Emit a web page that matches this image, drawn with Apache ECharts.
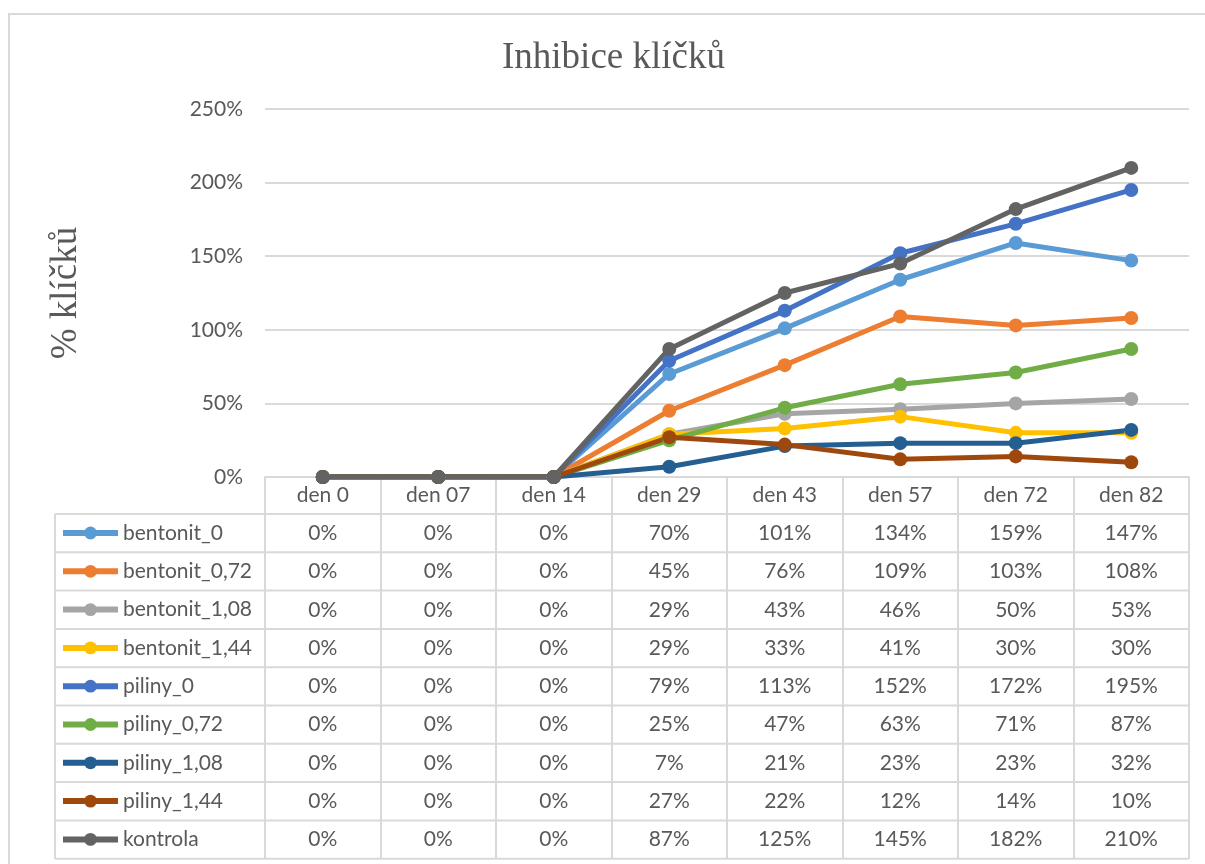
<!DOCTYPE html>
<html>
<head>
<meta charset="utf-8">
<script src="https://cdn.jsdelivr.net/npm/echarts@6/dist/echarts.min.js"></script>
<style>
  html, body { margin: 0; padding: 0; background: #fff; }
  #chartDiv { width: 1205px; height: 864px; }
</style>
</head>
<body>
<div id="chartDiv"></div>
<script>
// Data (values in %)
const days = ['den 0', 'den 07', 'den 14', 'den 29', 'den 43', 'den 57', 'den 72', 'den 82'];

const bentonit_0    = [0, 0, 0, 70, 101, 134, 159, 147];
const bentonit_0_72 = [0, 0, 0, 45, 76, 109, 103, 108];
const bentonit_1_08 = [0, 0, 0, 29, 43, 46, 50, 53];
const bentonit_1_44 = [0, 0, 0, 29, 33, 41, 30, 30];
const piliny_0      = [0, 0, 0, 79, 113, 152, 172, 195];
const piliny_0_72   = [0, 0, 0, 25, 47, 63, 71, 87];
const piliny_1_08   = [0, 0, 0, 7, 21, 23, 23, 32];
const piliny_1_44   = [0, 0, 0, 27, 22, 12, 14, 10];
const kontrola      = [0, 0, 0, 87, 125, 145, 182, 210];

const seriesNames = ['bentonit_0', 'bentonit_0,72', 'bentonit_1,08', 'bentonit_1,44',
    'piliny_0', 'piliny_0,72', 'piliny_1,08', 'piliny_1,44', 'kontrola'];
const seriesData = [bentonit_0, bentonit_0_72, bentonit_1_08, bentonit_1_44,
    piliny_0, piliny_0_72, piliny_1_08, piliny_1_44, kontrola];
const seriesColors = ['#5B9BD5', '#ED7D31', '#A5A5A5', '#FFC000',
    '#4472C4', '#70AD47', '#255E91', '#9E480E', '#636363'];

// Layout
const GRID_LEFT = 265;
const GRID_RIGHT_X = 1189;
const TABLE_LEFT = 55;
const ROW_TOP = 514;
const ROW_H = 38.3;
const TEXT_COLOR = '#595959';
const LINE_COLOR = '#d9d9d9';
const SANS = 'Lato, "Open Sans", sans-serif';
const FS = 21;

const myChart = echarts.init(document.getElementById('chartDiv'), null, { renderer: 'canvas' });

const option = {
    animation: false,
    backgroundColor: '#fff',
    title: {
        text: 'Inhibice klíčků',
        left: 497,
        top: 35,
        textStyle: { fontFamily: '"Liberation Serif", serif', fontSize: 37, fontWeight: 'normal', color: TEXT_COLOR }
    },
    legend: {
        orient: 'vertical',
        left: 60,
        top: ROW_TOP + 7,
        padding: 0,
        itemWidth: 55,
        itemHeight: 16,
        itemGap: ROW_H - 24,
        data: seriesNames,
        textStyle: { fontFamily: SANS, fontSize: FS, color: TEXT_COLOR, lineHeight: 24 },
        lineStyle: { width: 6 }
    },
    grid: { left: GRID_LEFT, right: 1205 - GRID_RIGHT_X, top: 109, bottom: 864 - 477 },
    xAxis: {
        type: 'category',
        data: days,
        boundaryGap: true,
        axisLine: { lineStyle: { color: LINE_COLOR, width: 2 } },
        axisTick: { show: true, length: 9 * ROW_H + (ROW_TOP - 477), lineStyle: { color: LINE_COLOR, width: 2 } },
        axisLabel: { fontFamily: SANS, fontSize: FS, color: TEXT_COLOR, margin: 8 },
        splitLine: { show: false }
    },
    yAxis: {
        type: 'value',
        min: 0,
        max: 250,
        interval: 50,
        name: '% klíčků',
        nameLocation: 'middle',
        nameRotate: 90,
        nameGap: 180,
        nameTextStyle: { fontFamily: '"Liberation Serif", serif', fontSize: 37, color: TEXT_COLOR },
        axisLine: { show: false },
        axisTick: { show: false },
        axisLabel: { formatter: '{value}%', fontFamily: SANS, fontSize: FS, color: TEXT_COLOR, margin: 22 },
        splitLine: { lineStyle: { color: LINE_COLOR, width: 2 } }
    },
    series: seriesNames.map((name, i) => ({
        name: name,
        type: 'line',
        data: seriesData[i],
        symbol: 'circle',
        symbolSize: 14,
        lineStyle: { width: 5, color: seriesColors[i] },
        itemStyle: { color: seriesColors[i] },
        emphasis: { disabled: true }
    }))
};

myChart.setOption(option);

// Data table under the axis, aligned with the category columns
function buildTable() {
    const elements = [];
    // outer chart border
    elements.push({
        type: 'rect',
        shape: { x: 9, y: 14, width: 1210, height: 870 },
        style: { fill: null, stroke: LINE_COLOR, lineWidth: 2 },
        silent: true, z: -1
    });
    // horizontal row lines
    for (let k = 0; k <= seriesNames.length; k++) {
        const y = ROW_TOP + k * ROW_H;
        elements.push({
            type: 'line',
            shape: { x1: TABLE_LEFT, y1: y, x2: GRID_RIGHT_X, y2: y },
            style: { stroke: LINE_COLOR, lineWidth: 2 },
            silent: true
        });
    }
    // left border of the legend column
    elements.push({
        type: 'line',
        shape: { x1: TABLE_LEFT, y1: ROW_TOP, x2: TABLE_LEFT, y2: ROW_TOP + seriesNames.length * ROW_H },
        style: { stroke: LINE_COLOR, lineWidth: 2 },
        silent: true
    });
    // cell values
    seriesData.forEach((arr, i) => {
        const cy = ROW_TOP + (i + 0.5) * ROW_H;
        arr.forEach((v, j) => {
            const cx = myChart.convertToPixel({ xAxisIndex: 0 }, days[j]);
            elements.push({
                type: 'text',
                x: cx,
                y: cy,
                style: {
                    text: v + '%',
                    fontFamily: SANS,
                    fontSize: FS,
                    fill: TEXT_COLOR,
                    align: 'center',
                    verticalAlign: 'middle'
                },
                silent: true
            });
        });
    });
    myChart.setOption({ graphic: elements });
}

buildTable();
</script>
</body>
</html>
